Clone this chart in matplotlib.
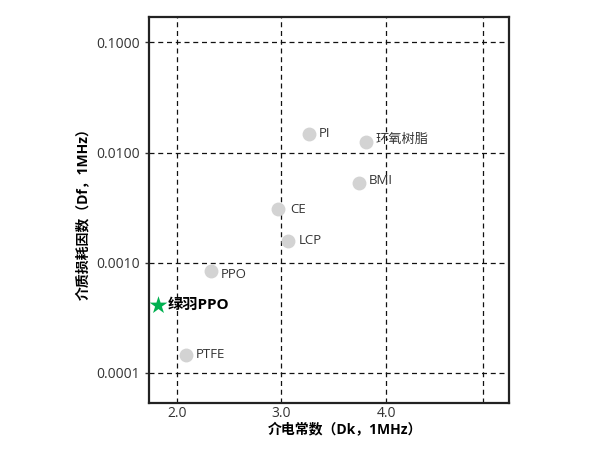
import matplotlib.pyplot as plt
import matplotlib.ticker as mticker

plt.rcParams['font.family'] = ['Open Sans', 'Noto Sans CJK SC', 'DejaVu Sans']

# data
materials = ['PI', '环氧树脂', 'BMI', 'CE', 'LCP', 'PPO', 'PTFE']
dk = [3.26, 3.81, 3.74, 2.97, 3.06, 2.33, 2.09]
df = [0.0148, 0.0125, 0.0053, 0.00305, 0.00158, 0.00085, 0.000146]
# label offsets in points (dx, dy)
label_offsets = [(7, 0), (7, 2), (7, 2), (9, 0), (8, 0), (7, -3), (7, 0)]

highlight_name = '绿羽PPO'
highlight_dk = 1.82
highlight_df = 0.00041

x_ticks = [2.0, 3.0, 4.0, 4.93]
x_tick_labels = ['2.0', '3.0', '4.0', '']
y_ticks = [0.0001, 0.001, 0.01, 0.1]

fig = plt.figure(figsize=(6.15, 4.62), dpi=100)
ax = fig.add_axes([0.2428, 0.1277, 0.5848, 0.8349])

ax.scatter(dk, df, s=100, color='#d3d3d3', zorder=3, linewidths=0)
for name, x, y, (ox, oy) in zip(materials, dk, df, label_offsets):
    ax.annotate(name, (x, y), xytext=(ox, oy), textcoords='offset points',
                ha='left', va='center', fontsize=9.5, color='#333333', zorder=4)

ax.scatter([highlight_dk], [highlight_df], marker='*', s=180, color='#00b050',
           zorder=4, linewidths=0)
ax.annotate(highlight_name, (highlight_dk, highlight_df), xytext=(7, 0),
            textcoords='offset points', ha='left', va='center',
            fontsize=11, fontweight='bold', color='black', zorder=4)

ax.set_yscale('log')
ax.set_xlim(1.738, 5.175)
ax.set_ylim(5.33e-5, 0.169)
ax.set_xticks(x_ticks)
ax.set_xticklabels(x_tick_labels)
ax.set_yticks(y_ticks)
ax.yaxis.set_major_formatter(mticker.FormatStrFormatter('%.4f'))
ax.yaxis.set_minor_locator(mticker.NullLocator())
ax.tick_params(axis='x', length=0, labelsize=10, pad=2, colors='#333333')
ax.tick_params(axis='y', length=3, width=1, labelsize=10, colors='#333333')

ax.grid(True, which='major', linestyle='--', color='#111111', linewidth=0.9,
        dashes=(4, 3))
ax.set_axisbelow(True)
for sp in ax.spines.values():
    sp.set_linewidth(1.6)
    sp.set_color('#222222')

ax.set_xlabel('介电常数（Dk，1MHz）', fontsize=10, fontweight='bold', labelpad=0)
ax.xaxis.set_label_coords(0.545, -0.053)
ax.set_ylabel('介质损耗因数（Df，1MHz）', fontsize=10, fontweight='bold', labelpad=4)

fig.savefig('out.png', dpi=100)
